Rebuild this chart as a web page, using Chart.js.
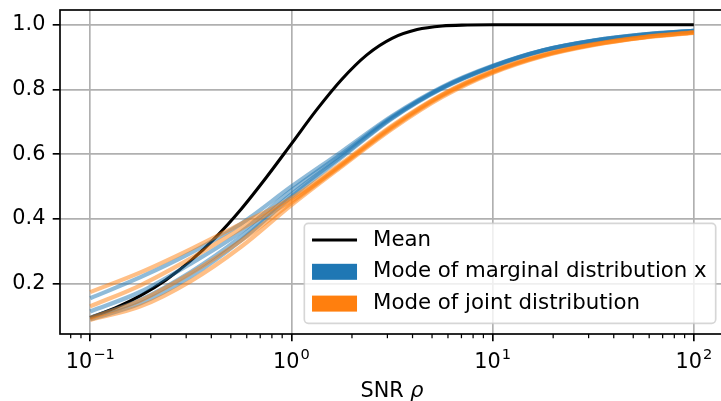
<!DOCTYPE html>
<html>
<head>
<meta charset="utf-8">
<script src="https://cdn.jsdelivr.net/npm/chart.js@4.4.1/dist/chart.umd.min.js"></script>
<style>
  html, body { margin: 0; padding: 0; background: #fff; overflow: hidden; }
  #wrap { width: 725px; height: 401px; }
</style>
</head>
<body>
<div id="wrap"><canvas id="snr" width="725" height="401"></canvas></div>
<script>
// SNR values (log grid) used for the mode curves
var rho = [0.1, 0.1778, 0.3162, 0.5623, 1, 1.778, 3.162, 5.623, 10, 17.78, 31.62, 56.23, 100];
// finer grid for the mean curve
var rhoMean = [0.1, 0.1334, 0.1778, 0.2371, 0.3162, 0.4217, 0.5623, 0.7499, 1, 1.334, 1.778, 2.371,
               3.162, 4.217, 5.623, 7.499, 10, 13.34, 17.78, 23.71, 31.62, 42.17, 56.23, 74.99, 100];
var meanVals = [0.095, 0.125, 0.163, 0.211, 0.271, 0.344, 0.430, 0.528, 0.632, 0.737, 0.831, 0.907,
                0.958, 0.985, 0.996, 0.999, 1.0, 1.0, 1.0, 1.0, 1.0, 1.0, 1.0, 1.0, 1.0];

// mode of marginal distribution x (blue lines)
var marginal0 = [0.090, 0.139, 0.222, 0.334, 0.468, 0.590, 0.710, 0.803, 0.870, 0.920, 0.950, 0.969, 0.981];
var marginal1 = [0.155, 0.220, 0.295, 0.385, 0.500, 0.608, 0.718, 0.808, 0.873, 0.921, 0.951, 0.970, 0.981];
var marginal2 = [0.114, 0.175, 0.262, 0.360, 0.488, 0.601, 0.715, 0.806, 0.872, 0.921, 0.951, 0.970, 0.981];
var marginal3 = [0.095, 0.150, 0.236, 0.345, 0.476, 0.594, 0.712, 0.805, 0.871, 0.920, 0.950, 0.969, 0.981];

// mode of joint distribution (orange lines)
var joint0 = [0.088, 0.130, 0.208, 0.314, 0.443, 0.562, 0.678, 0.777, 0.851, 0.903, 0.937, 0.960, 0.975];
var joint1 = [0.174, 0.235, 0.307, 0.385, 0.464, 0.572, 0.688, 0.785, 0.857, 0.907, 0.940, 0.962, 0.977];
var joint2 = [0.130, 0.195, 0.278, 0.370, 0.456, 0.568, 0.685, 0.783, 0.855, 0.906, 0.939, 0.961, 0.976];
var joint3 = [0.094, 0.148, 0.232, 0.333, 0.450, 0.566, 0.682, 0.781, 0.853, 0.904, 0.938, 0.961, 0.976];

var xTicks = [0.1, 1, 10, 100];
var xTickExp = ['\u22121', '0', '1', '2'];
var yTicks = [0.2, 0.4, 0.6, 0.8, 1.0];

var BLUE = '#1f77b4';
var ORANGE = '#ff7f0e';
var FONT = 'DejaVu Sans';
var FS = 20.8;
var SUP_FS = 14.6;
var LEG_FS = 21.3;

function pts(xs, ys) {
   return xs.map(function(v, i) { return {x: v, y: ys[i]}; });
}

function line(xs, ys, color, width) {
   return {
      data: pts(xs, ys),
      borderColor: color,
      borderWidth: width,
      pointRadius: 0,
      fill: false,
      cubicInterpolationMode: 'monotone'
   };
}

function getData() {
   var halfBlue = 'rgba(31,119,180,0.5)';
   var halfOrange = 'rgba(255,127,14,0.5)';
   // first dataset is drawn on top
   return {
      datasets: [
         line(rho, joint1, halfOrange, 4.2),
         line(rho, joint2, halfOrange, 4.2),
         line(rho, joint3, halfOrange, 4.2),
         line(rho, joint0, halfOrange, 4.2),
         line(rho, marginal1, halfBlue, 4.2),
         line(rho, marginal2, halfBlue, 4.2),
         line(rho, marginal3, halfBlue, 4.2),
         line(rho, marginal0, halfBlue, 4.2),
         line(rhoMean, meanVals, '#000000', 3.1)
      ]
   };
}

var decor = {
   id: 'decor',
   afterDatasetsDraw: function(chart) {
      var ctx = chart.ctx, a = chart.chartArea, x = chart.scales.x;
      ctx.save();
      // minor ticks on the log axis
      ctx.strokeStyle = '#000';
      ctx.lineWidth = 1.25;
      for (var d = -2; d <= 2; d++) {
         for (var k = 2; k <= 9; k++) {
            var v = k * Math.pow(10, d);
            if (v < x.min || v > x.max) continue;
            var px = x.getPixelForValue(v);
            ctx.beginPath();
            ctx.moveTo(px, a.bottom);
            ctx.lineTo(px, a.bottom + 4.2);
            ctx.stroke();
         }
      }
      // spines
      ctx.lineWidth = 1.67;
      ctx.strokeRect(a.left, a.top, a.right - a.left, a.bottom - a.top);

      // x tick labels as 10 with a superscript exponent
      ctx.fillStyle = '#000';
      ctx.textAlign = 'left';
      ctx.textBaseline = 'alphabetic';
      var baseY = a.bottom + 34.3;
      xTicks.forEach(function(v, i) {
         ctx.font = FS + 'px "' + FONT + '"';
         var wb = ctx.measureText('10').width;
         ctx.font = SUP_FS + 'px "' + FONT + '"';
         var we = ctx.measureText(xTickExp[i]).width;
         var lx = x.getPixelForValue(v) - (wb + 1 + we) / 2;
         ctx.font = FS + 'px "' + FONT + '"';
         ctx.fillText('10', lx, baseY);
         ctx.font = SUP_FS + 'px "' + FONT + '"';
         ctx.fillText(xTickExp[i], lx + wb + 1, baseY - 9);
      });

      // legend
      var labels = ['Mean', 'Mode of marginal distribution x', 'Mode of joint distribution'];
      ctx.font = LEG_FS + 'px "' + FONT + '"';
      var tw = 0;
      labels.forEach(function(t) { tw = Math.max(tw, ctx.measureText(t).width); });
      var bw = 7.7 + 45 + 16 + tw + 9;
      var bh = 100;
      var bx = a.right - 8.3 - bw;
      var by = a.bottom - 10.7 - bh;
      ctx.beginPath();
      ctx.roundRect(bx, by, bw, bh, 4);
      ctx.fillStyle = 'rgba(255,255,255,0.8)';
      ctx.fill();
      ctx.strokeStyle = 'rgba(204,204,204,0.8)';
      ctx.lineWidth = 1.67;
      ctx.stroke();
      var rows = [16.7, 48.5, 80.3];
      var hx = bx + 7.7;
      ctx.strokeStyle = '#000';
      ctx.lineWidth = 3.1;
      ctx.beginPath();
      ctx.moveTo(hx, by + rows[0]);
      ctx.lineTo(hx + 45, by + rows[0]);
      ctx.stroke();
      ctx.fillStyle = BLUE;
      ctx.fillRect(hx, by + rows[1] - 8, 45, 16);
      ctx.fillStyle = ORANGE;
      ctx.fillRect(hx, by + rows[2] - 8, 45, 16);
      ctx.fillStyle = '#000';
      ctx.textBaseline = 'middle';
      ctx.textAlign = 'left';
      labels.forEach(function(t, i) { ctx.fillText(t, hx + 45 + 16, by + rows[i]); });

      // x axis title: SNR rho (rho in italics)
      ctx.font = FS + 'px "' + FONT + '"';
      var part1 = 'SNR ';
      var w1 = ctx.measureText(part1).width;
      ctx.font = 'italic ' + FS + 'px "' + FONT + '"';
      var w2 = ctx.measureText('\u03C1').width;
      var cx = (a.left + a.right) / 2;
      var sx = cx - (w1 + w2) / 2;
      ctx.textBaseline = 'alphabetic';
      ctx.font = FS + 'px "' + FONT + '"';
      ctx.fillText(part1, sx, 397);
      ctx.font = 'italic ' + FS + 'px "' + FONT + '"';
      ctx.fillText('\u03C1', sx + w1, 397);
      ctx.restore();
   }
};

function getConfig() {
   return {
      type: 'line',
      data: getData(),
      options: {
         responsive: false,
         animation: false,
         devicePixelRatio: 1,
         layout: {padding: {top: 10, right: 1, left: 0, bottom: 0}},
         plugins: {legend: {display: false}, tooltip: {enabled: false}},
         scales: {
            x: {
               type: 'logarithmic',
               min: Math.pow(10, -1.15),
               max: Math.pow(10, 2.15),
               afterBuildTicks: function(s) { s.ticks = xTicks.map(function(v) { return {value: v}; }); },
               afterFit: function(s) { s.height = 67; s.paddingLeft = 0; s.paddingRight = 0; },
               border: {display: false},
               grid: {color: '#b0b0b0', lineWidth: 1.67, tickColor: '#000', tickLength: 7.3, tickWidth: 1.67},
               ticks: {display: false, autoSkip: false, maxRotation: 0}
            },
            y: {
               type: 'linear',
               min: 0.0445,
               max: 1.0455,
               afterBuildTicks: function(s) { s.ticks = yTicks.map(function(v) { return {value: v}; }); },
               afterFit: function(s) { s.width = 60; s.paddingTop = 0; s.paddingBottom = 0; },
               border: {display: false},
               grid: {color: '#b0b0b0', lineWidth: 1.67, tickColor: '#000', tickLength: 7.3, tickWidth: 1.67},
               ticks: {
                  padding: 7.3, color: '#000',
                  font: {family: FONT, size: FS},
                  callback: function(v) { return v.toFixed(1); }
               }
            }
         }
      },
      plugins: [decor]
   };
}

var snrChart = new Chart(document.getElementById('snr'), getConfig());
</script>
</body>
</html>
